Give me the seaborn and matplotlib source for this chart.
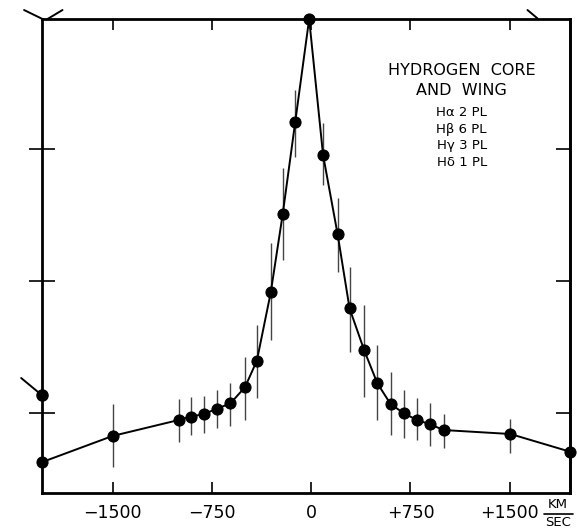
import numpy as np
import matplotlib
matplotlib.use("Agg")
import matplotlib.pyplot as plt
import matplotlib.lines as mlines
import seaborn as sns
import pandas as pd

# ---- data (velocity in km/sec, relative line strength in arbitrary units) ----
velocity = [-2035, -1500, -1000, -910, -810, -710, -610, -500, -410, -305, -215, -120, -15,
            90, 200, 290, 400, 500, 600, 700, 800, 900, 1000, 1505, 1955]
strength = [0.627, 0.826, 0.947, 0.972, 0.992, 1.033, 1.073, 1.195, 1.396, 1.914, 2.505, 3.207, 3.985,
            2.955, 2.354, 1.793, 1.477, 1.225, 1.068, 0.998, 0.947, 0.914, 0.871, 0.841, 0.707]
err_upper = [np.nan, 1.068, 1.106, 1.121, 1.129, 1.174, 1.230, 1.424, 1.667, 2.288, 2.856, 3.447, np.nan,
             3.197, 2.629, 2.108, 1.818, 1.515, 1.313, 1.174, 1.114, 1.076, 0.992, 0.955, np.nan]
err_lower = [np.nan, 0.593, 0.783, 0.833, 0.848, 0.886, 0.904, 0.947, 1.114, 1.553, 2.159, 2.939, np.nan,
             2.727, 2.070, 1.462, 1.123, 0.947, 0.833, 0.811, 0.795, 0.752, 0.735, 0.699, np.nan]

# fragments of neighbouring panels visible at the edges of the scan
neighbor_left_x = [-2190, -2035]
neighbor_left_y = [1.265, 1.136]
frag_a_x = [-2168, -2029]
frag_a_y = [4.053, 3.985]
frag_b_x = [-1991, -1878]
frag_b_y = [3.985, 4.053]
frag_c_x = [1634, 1709]
frag_c_y = [4.053, 3.99]

xticks = [-1500, -750, 0, 750, 1500]
xtick_labels = ["\u22121500", "\u2212750", "0", "+750", "+1500"]
yticks = [1, 2, 3]

legend_title = ["HYDROGEN  CORE", "AND  WING"]
legend_lines = ["H\u03b1 2 PL", "H\u03b2 6 PL", "H\u03b3 3 PL", "H\u03b4 1 PL"]

# ---- plot ----
sns.set_style("white")
plt.rcParams['font.family'] = ['DejaVu Sans']
plt.rcParams['text.color'] = 'black'
plt.rcParams['xtick.color'] = 'black'
plt.rcParams['ytick.color'] = 'black'

fig = plt.figure(figsize=(5.77, 5.31), dpi=100)
ax = fig.add_axes([41.7 / 577, 38 / 531, (570 - 41.7) / 577, (493 - 19) / 531])

df = pd.DataFrame({"v": velocity, "s": strength, "lo": err_lower, "hi": err_upper})
eb = df.dropna()
ax.vlines(eb["v"], eb["lo"], eb["hi"], color="#444444", linewidth=1.0, zorder=2)

sns.lineplot(data=df, x="v", y="s", ax=ax, color="black", linewidth=1.4,
             marker="o", markersize=8, markeredgecolor="black", markerfacecolor="black",
             estimator=None, sort=False, zorder=3, clip_on=False)

ax.plot(neighbor_left_x, neighbor_left_y, color="black", linewidth=1.4, marker="o",
        markersize=8, markevery=[1], clip_on=False, zorder=3)
for fx, fy in [(frag_a_x, frag_a_y), (frag_b_x, frag_b_y), (frag_c_x, frag_c_y)]:
    ax.plot(fx, fy, color="black", linewidth=1.4, clip_on=False, zorder=3)

ax.set_xlim(-2035, 1955)
ax.set_ylim(0.394, 3.985)
ax.set_xlabel("")
ax.set_ylabel("")

ax.set_xticks(xticks)
ax.set_xticklabels(xtick_labels, fontsize=12.5)
ax.tick_params(axis="x", direction="in", length=8, width=1.2, top=True, bottom=True,
               pad=8, colors="black")
ax.set_yticks(yticks)
ax.set_yticklabels([])
ax.tick_params(axis="y", direction="inout", length=19, width=1.2, left=True, right=False)

sec = ax.secondary_yaxis("right")
sec.set_yticks(yticks)
sec.set_yticklabels([])
sec.tick_params(direction="in", length=10, width=1.2)
sec.spines["right"].set_linewidth(2.0)

for sp in ax.spines.values():
    sp.set_linewidth(2.0)
    sp.set_color("black")

# legend text block
ax.text(0.795, 0.891, legend_title[0], transform=ax.transAxes, ha="center", va="center",
        fontsize=11.5, color="black")
ax.text(0.795, 0.849, legend_title[1], transform=ax.transAxes, ha="center", va="center",
        fontsize=11.5, color="black")
line_y = [113, 129, 146, 163]
for t, py in zip(legend_lines, line_y):
    ax.text(0.795, (493 - py) / 474, t, transform=ax.transAxes, ha="center", va="center",
            fontsize=9.5, color="black")

# KM / SEC unit fraction
fig.text(558 / 577, 1 - 504 / 531, "KM", ha="center", va="center", fontsize=9.5)
fig.text(558 / 577, 1 - 523 / 531, "SEC", ha="center", va="center", fontsize=9.5)
fig.add_artist(mlines.Line2D([544 / 577, 573 / 577], [1 - 514 / 531, 1 - 514 / 531],
                             color="black", linewidth=1.2, transform=fig.transFigure))

fig.savefig("out.png", dpi=100)
